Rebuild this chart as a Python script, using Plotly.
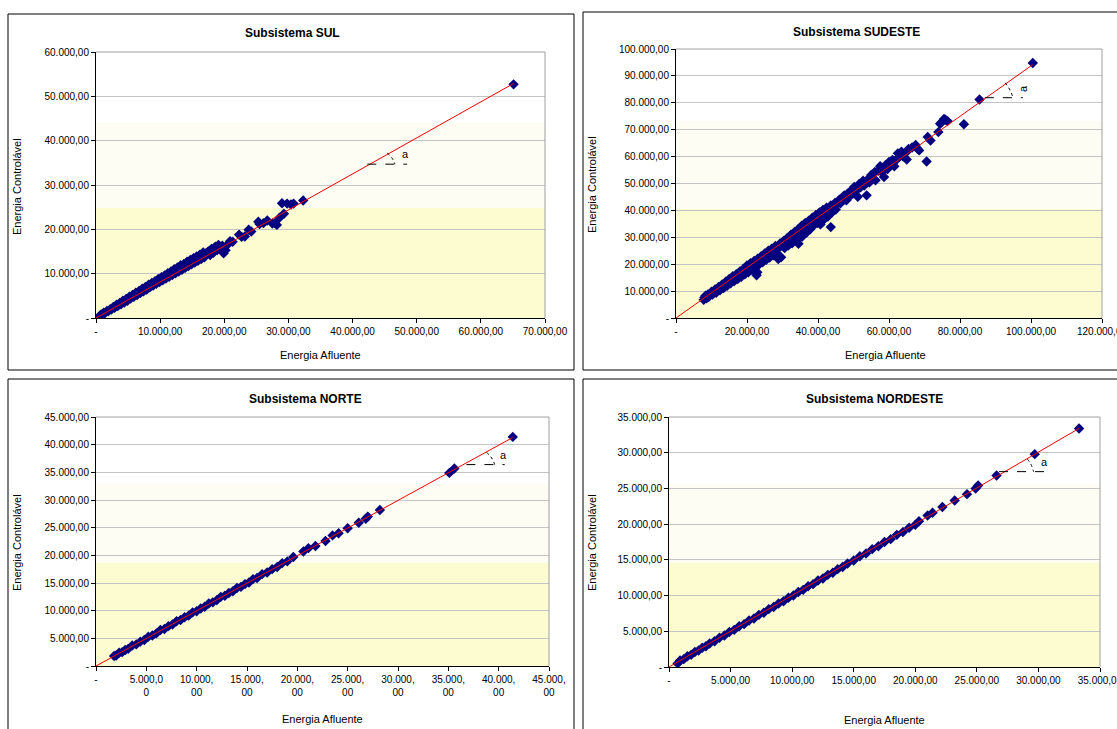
import plotly.graph_objects as go

W, H = 1117, 729

# ---------------- Subsistema SUL ----------------
sul_x = [600, 800, 1000, 1200, 1400, 1700, 1900, 2200, 2400, 2700, 2900, 3200, 3400, 3700,
         3900, 4200, 4400, 4700, 4900, 5200, 5400, 5700, 5900, 6200, 6400, 6700, 6900, 7200,
         7400, 7700, 7900, 8200, 8400, 8700, 8900, 9200, 9400, 9700, 9900, 10200, 10400,
         10700, 10900, 11200, 11400, 11700, 11900, 12200, 12400, 12700, 12900, 13200, 13400,
         13700, 13900, 14200, 14400, 14700, 14900, 15200, 15400, 15700, 15900, 16200, 16400,
         16700, 16900, 17200, 17500, 17800, 18000, 18300, 18600, 18900, 19100, 19400, 19700,
         19900, 20200, 20500, 20900, 21300, 22300, 22700, 23200, 23800, 24200, 25300, 25500,
         26100, 26700, 27500, 27900, 28200, 28600, 29300, 29000, 29800, 30400, 30800, 32300,
         65100]
sul_y = [500, 800, 700, 1200, 1100, 1600, 1500, 2000, 1900, 2500, 2300, 3000, 2700, 3400,
         3100, 3900, 3500, 4300, 3900, 4800, 4400, 5200, 4800, 5700, 5200, 6100, 5600, 6600,
         6000, 7000, 6400, 7500, 6900, 7900, 7300, 8300, 7700, 8800, 8100, 9200, 8500,
         9600, 8900, 10100, 9300, 10500, 9700, 11000, 10100, 11400, 10500, 11900, 10900,
         12200, 11300, 12700, 11700, 13100, 12100, 13500, 12500, 13900, 12900, 14300, 13300,
         14800, 13700, 14700, 15000, 14200, 15600, 14700, 16100, 15300, 16500, 15800, 16300,
         14600, 15300, 16500, 17300, 17200, 18800, 18300, 18400, 19900, 19500, 21700, 21200,
         21400, 22000, 21300, 21400, 21000, 22600, 23500, 25900, 25800, 25600, 25800, 26500,
         52700]
sul_trend_x = [0, 65100]
sul_trend_y = [0, 52900]

# ---------------- Subsistema SUDESTE ----------------
sudeste_x = [7800, 8000, 8300, 8600, 9000, 9200, 9500, 10000, 10300, 10600, 11000, 11300,
             11700, 12000, 12400, 12800, 13000, 13400, 13800, 14000, 14400, 14800, 15000,
             15400, 15800, 16000, 16400, 16800, 17000, 17400, 17800, 18000, 18400, 18800,
             19000, 19400, 19800, 20000, 20400, 20800, 21000, 21400, 21800, 22000, 22400,
             22700, 22900, 23000, 23400, 23800, 24000, 24400, 24800, 25000, 25400, 25800,
             26000, 26400, 26800, 27000, 27400, 27800, 28000, 28400, 28800, 29000, 29300,
             29600, 30000, 30300, 30600, 31000, 31300, 31600, 32000, 32400, 32700, 33000,
             33400, 33800, 34000, 34400, 34500, 35000, 35400, 35500, 36000, 36400, 36800,
             37000, 37400, 37800, 38000, 38400, 38800, 39000, 39400, 39800, 40000, 40400,
             40700, 41000, 41400, 41800, 42000, 42400, 42800, 43000, 43600, 43600, 44000,
             44300, 44800, 45000, 45500, 46000, 46300, 47000, 47400, 48000, 48300, 49000,
             49500, 50000, 50200, 51000, 51200, 51600, 52000, 52700, 53000, 53700, 54000,
             54500, 55000, 55300, 56000, 56200, 57000, 57500, 58000, 58600, 59000, 59600,
             60000, 60500, 61000, 61500, 62100, 62500, 63000, 63500, 64000, 65000, 65000,
             65500, 66500, 67500, 68000, 68500, 70600, 70900, 71700, 73900, 74400, 74900,
             75500, 75900, 76500, 81100, 85500, 100500]
sudeste_y = [6800, 7600, 8300, 7300, 8800, 7800, 8600, 9800, 8700, 9600, 10600, 9400,
             10500, 11500, 10300, 11700, 12500, 11100, 12700, 13500, 12000, 13600, 14500,
             12900, 14600, 15500, 13700, 15400, 16300, 14500, 16300, 17300, 15300, 17200,
             18300, 16200, 18000, 19500, 17000, 19000, 20400, 17900, 20000, 21200, 18800,
             15900, 17000, 22000, 19900, 21600, 23000, 20700, 22600, 24000, 21600, 23500,
             25000, 22500, 24300, 25800, 23300, 25200, 26800, 24000, 21900, 26000, 27700,
             22600, 27000, 28600, 26000, 28800, 29700, 26900, 29600, 31000, 27800, 30600,
             32000, 28800, 31300, 33000, 27600, 32400, 34300, 30200, 33300, 35300, 31800,
             34300, 36200, 33000, 35300, 37300, 34500, 36400, 38300, 35300, 37300, 39200,
             34800, 38200, 40200, 36800, 39300, 41000, 37700, 40200, 33800, 41800, 39300,
             41300, 42800, 40300, 42600, 44000, 42600, 44500, 45600, 43800, 46200, 45300,
             47700, 46400, 48700, 47600, 45100, 49800, 48600, 51000, 49200, 45600, 51500,
             50400, 53200, 51800, 54300, 51200, 54700, 56400, 54100, 52400, 56800, 55400,
             58000, 57000, 58800, 56400, 58800, 61200, 60000, 61800, 60000, 58900, 61800,
             62800, 63400, 64300, 63000, 62300, 58200, 67300, 66000, 69100, 72200, 72900,
             74000, 73700, 73200, 72000, 81200, 94800]
sudeste_trend_x = [0, 100500]
sudeste_trend_y = [0, 94200]

# ---------------- Subsistema NORTE ----------------
norte_x = [1800, 2000, 2300, 2600, 2900, 3200, 3600, 4000, 4400, 4800, 5200, 5600, 6000,
           6400, 6800, 7200, 7600, 8000, 8400, 8800, 9200, 9600, 10000, 10400, 10800, 11200,
           11600, 12000, 12400, 12800, 13200, 13600, 14000, 14400, 14800, 15200, 15600,
           16000, 16500, 17000, 17500, 18000, 18500, 19000, 19600, 20600, 21100, 21800,
           22800, 23500, 24100, 25000, 26100, 26800, 27000, 28200, 35100, 35600, 41400]
norte_y = [1800, 1900, 2400, 2500, 2900, 3100, 3700, 3900, 4400, 4700, 5300, 5500, 5900,
           6500, 6700, 7200, 7500, 8100, 8300, 8800, 9100, 9700, 9900, 10400, 10700, 11300,
           11500, 11900, 12500, 12700, 13200, 13500, 14100, 14300, 14800, 15100, 15700,
           15900, 16600, 16900, 17500, 17900, 18600, 18900, 19700, 20700, 21300, 21700,
           22600, 23600, 24000, 24900, 25900, 26600, 27000, 28200, 34900, 35700, 41400]
norte_trend_x = [0, 41400]
norte_trend_y = [0, 41300]

# ---------------- Subsistema NORDESTE ----------------
nordeste_x = [700, 900, 1200, 1500, 1800, 2100, 2400, 2700, 3000, 3300, 3700, 4100, 4500,
              4900, 5300, 5700, 6100, 6500, 6900, 7300, 7700, 8100, 8500, 8900, 9300, 9700,
              10100, 10500, 10900, 11300, 11700, 12100, 12500, 12900, 13300, 13700, 14100,
              14500, 15000, 15500, 16000, 16500, 17000, 17500, 18000, 18500, 19000, 19500,
              20000, 20300, 21000, 21400, 22200, 23200, 24200, 24900, 25100, 26600, 29700,
              33300]
nordeste_y = [500, 900, 1100, 1500, 1700, 2100, 2300, 2700, 2900, 3300, 3600, 4100, 4400,
              4900, 5200, 5700, 6000, 6500, 6800, 7300, 7600, 8100, 8400, 8900, 9200, 9700,
              10000, 10500, 10800, 11300, 11600, 12100, 12400, 12900, 13200, 13700, 14000,
              14500, 14900, 15500, 15900, 16500, 16900, 17500, 17900, 18500, 18900, 19500,
              19900, 20400, 21200, 21600, 22400, 23300, 24200, 25000, 25400, 26800, 29800,
              33400]
nordeste_trend_x = [0, 33300]
nordeste_trend_y = [0, 33400]

# Tick values / labels
sul_xticks = [0, 10000, 20000, 30000, 40000, 50000, 60000, 70000]
sul_yticks = [0, 10000, 20000, 30000, 40000, 50000, 60000]
sudeste_xticks = [0, 20000, 40000, 60000, 80000, 100000, 120000]
sudeste_yticks = [0, 10000, 20000, 30000, 40000, 50000, 60000, 70000, 80000, 90000, 100000]
norte_xticks = [0, 5000, 10000, 15000, 20000, 25000, 30000, 35000, 40000, 45000]
norte_xlabels = ["-", "5.000,0<br>0", "10.000,<br>00", "15.000,<br>00", "20.000,<br>00",
                 "25.000,<br>00", "30.000,<br>00", "35.000,<br>00", "40.000,<br>00",
                 "45.000,<br>00"]
norte_yticks = [0, 5000, 10000, 15000, 20000, 25000, 30000, 35000, 40000, 45000]
nordeste_xticks = [0, 5000, 10000, 15000, 20000, 25000, 30000, 35000]
nordeste_yticks = [0, 5000, 10000, 15000, 20000, 25000, 30000, 35000]


def br(v):
    if v == 0:
        return "-"
    s = f"{v:,.2f}"
    return s.replace(",", "X").replace(".", ",").replace("X", ".")


def px(x):
    return x / W


def py(y):
    return 1 - y / H


FONT = "Liberation Sans, Arial, sans-serif"
NAVY = "#000080"
RED = "#FF0000"
BAND1 = "#FDFCD0"
BAND2 = "#FEFDF3"
GRID = "#C4C4C4"

panels = [
    dict(title="Subsistema SUL", x=sul_x, y=sul_y, tx=sul_trend_x, ty=sul_trend_y,
         xt=sul_xticks, xl=[br(v) for v in sul_xticks], yt=sul_yticks,
         xdom=(96, 545), ydom=(52, 318), box=(8, 14, 574, 370),
         bands=(24800, 44000), title_pos=(292, 33), xtitle_pos=(320, 355), ytitle_pos=(17, 187),
         ang=dict(h=(42300, 48500, 34700), arc=(45400, 37200, 46300, 36200, 46600, 34700),
                  a=(48300, 36900), rot=0)),
    dict(title="Subsistema SUDESTE", x=sudeste_x, y=sudeste_y, tx=sudeste_trend_x, ty=sudeste_trend_y,
         xt=sudeste_xticks, xl=[br(v) for v in sudeste_xticks], yt=sudeste_yticks,
         xdom=(676, 1102), ydom=(49, 318), box=(583, 12, 1122, 370),
         bands=(40500, 73300), title_pos=(856, 32), xtitle_pos=(885, 355), ytitle_pos=(592, 185),
         ang=dict(h=(87000, 97700, 81900), arc=(92700, 87400, 94300, 85000, 94900, 81900),
                  a=(97600, 85300), rot=-90)),
    dict(title="Subsistema NORTE", x=norte_x, y=norte_y, tx=norte_trend_x, ty=norte_trend_y,
         xt=norte_xticks, xl=norte_xlabels, yt=norte_yticks,
         xdom=(96, 549), ydom=(417, 666), box=(8, 379, 574, 735),
         bands=(18600, 33000), title_pos=(305, 399), xtitle_pos=(322, 719), ytitle_pos=(17, 543),
         ang=dict(h=(36800, 40600, 36400), arc=(38800, 38600, 39400, 37700, 39600, 36400),
                  a=(40500, 38100), rot=0)),
    dict(title="Subsistema NORDESTE", x=nordeste_x, y=nordeste_y, tx=nordeste_trend_x, ty=nordeste_trend_y,
         xt=nordeste_xticks, xl=[br(v) for v in nordeste_xticks], yt=nordeste_yticks,
         xdom=(669, 1100), ydom=(417, 667), box=(583, 379, 1122, 735),
         bands=(14600, 25600), title_pos=(874, 399), xtitle_pos=(884, 720), ytitle_pos=(592, 543),
         ang=dict(h=(26800, 30600, 27350), arc=(29100, 29100, 29500, 28300, 29600, 27350),
                  a=(30500, 28700), rot=0)),
]

fig = go.Figure()
shapes = []
annotations = []
layout = {}


def text_note(x, y, text, size, angle=0):
    return dict(xref="paper", yref="paper", x=px(x), y=py(y), text=text, showarrow=False,
                xanchor="center", yanchor="middle", textangle=angle,
                font=dict(family=FONT, size=size, color="black"))


for i, p in enumerate(panels):
    n = "" if i == 0 else str(i + 1)
    xa, ya = "x" + n, "y" + n
    xmax, ymax = p["xt"][-1], p["yt"][-1]

    fig.add_trace(go.Scatter(x=p["x"], y=p["y"], mode="markers", xaxis=xa, yaxis=ya,
                             marker=dict(symbol="diamond", size=8, color=NAVY, line=dict(width=0)),
                             showlegend=False, hoverinfo="skip"))
    fig.add_trace(go.Scatter(x=p["tx"], y=p["ty"], mode="lines", xaxis=xa, yaxis=ya,
                             line=dict(color=RED, width=1), showlegend=False, hoverinfo="skip"))

    layout["xaxis" + n] = dict(
        domain=[px(p["xdom"][0]), px(p["xdom"][1])], anchor=ya, range=[0, xmax],
        automargin=False, ticklabeloverflow="allow",
        tickmode="array", tickvals=p["xt"], ticktext=p["xl"], showgrid=False, zeroline=False,
        showline=True, linecolor="black", linewidth=1, ticks="outside", ticklen=4,
        tickcolor="black", tickfont=dict(family=FONT, size=10, color="black"), fixedrange=True)
    layout["yaxis" + n] = dict(
        domain=[py(p["ydom"][1]), py(p["ydom"][0])], anchor=xa, range=[0, ymax],
        automargin=False,
        tickmode="array", tickvals=p["yt"], ticktext=[br(v) for v in p["yt"]],
        showgrid=True, gridcolor=GRID, gridwidth=1, zeroline=False,
        showline=True, linecolor="black", linewidth=1, ticks="outside", ticklen=4,
        tickcolor="black", tickfont=dict(family=FONT, size=10, color="black"), fixedrange=True)

    # background bands
    shapes.append(dict(type="rect", xref=xa + " domain", yref=ya, x0=0, x1=1, y0=0,
                       y1=p["bands"][0], fillcolor=BAND1, line=dict(width=0), layer="below"))
    shapes.append(dict(type="rect", xref=xa + " domain", yref=ya, x0=0, x1=1, y0=p["bands"][0],
                       y1=p["bands"][1], fillcolor=BAND2, line=dict(width=0), layer="below"))
    # plot area frame (top / right)
    shapes.append(dict(type="line", xref=xa + " domain", yref=ya + " domain", x0=0, x1=1, y0=1, y1=1,
                       line=dict(color="#A0A0A0", width=1), layer="above"))
    shapes.append(dict(type="line", xref=xa + " domain", yref=ya + " domain", x0=1, x1=1, y0=0, y1=1,
                       line=dict(color="#A0A0A0", width=1), layer="above"))
    # chart frame
    bx0, by0, bx1, by1 = p["box"]
    shapes.append(dict(type="rect", xref="paper", yref="paper", x0=px(bx0), x1=px(bx1),
                       y0=py(by1), y1=py(by0), line=dict(color="black", width=1),
                       fillcolor="rgba(0,0,0,0)", layer="above"))

    # angle mark
    hx0, hx1, hy = p["ang"]["h"]
    shapes.append(dict(type="line", xref=xa, yref=ya, x0=hx0, x1=hx1, y0=hy, y1=hy,
                       line=dict(color="black", width=1, dash="dash"), layer="above"))
    ax0, ay0, cx, cy, ax1, ay1 = p["ang"]["arc"]
    shapes.append(dict(type="path", xref=xa, yref=ya,
                       path=f"M {ax0},{ay0} Q {cx},{cy} {ax1},{ay1}",
                       line=dict(color="black", width=1, dash="dot"), layer="above"))
    annotations.append(dict(xref=xa, yref=ya, x=p["ang"]["a"][0], y=p["ang"]["a"][1], text="a",
                            showarrow=False, textangle=p["ang"]["rot"], xanchor="center",
                            yanchor="middle", font=dict(family=FONT, size=11, color="black")))

    # titles
    annotations.append(text_note(*p["title_pos"], "<b>" + p["title"] + "</b>", 12))
    annotations.append(text_note(*p["xtitle_pos"], "Energia Afluente", 11))
    annotations.append(text_note(*p["ytitle_pos"], "Energia Controlável", 11, -90))

fig.update_layout(
    template="none",
    width=W, height=H, autosize=False, margin=dict(l=0, r=0, t=0, b=0, pad=0),
    paper_bgcolor="white", plot_bgcolor="white",
    font=dict(family=FONT, color="black"),
    shapes=shapes, annotations=annotations, showlegend=False,
    **layout,
)

fig.write_html("out.html", config={"displayModeBar": False},
               post_script="document.body.style.margin='0';")
